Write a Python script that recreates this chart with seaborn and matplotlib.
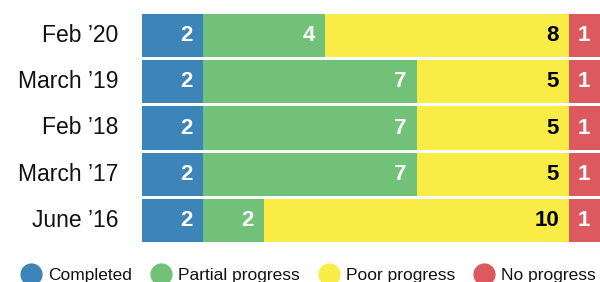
import numpy as np
import pandas as pd
import matplotlib
matplotlib.use("Agg")
import matplotlib.pyplot as plt
from matplotlib.lines import Line2D
import seaborn as sns

# data
periods = ["Feb \u201920", "March \u201919", "Feb \u201918", "March \u201917", "June \u201916"]
categories = ["Completed", "Partial progress", "Poor progress", "No progress"]
completed = [2, 2, 2, 2, 2]
partial = [4, 7, 7, 7, 2]
poor = [8, 5, 5, 5, 10]
no_progress = [1, 1, 1, 1, 1]

colors = ["#3d85b8", "#72c178", "#faec46", "#dc5a5f"]
label_colors = ["white", "white", "black", "white"]

sns.set_style("white")
plt.rcParams["font.family"] = ["Liberation Sans", "DejaVu Sans"]

df = pd.DataFrame({"period": periods,
                   categories[0]: completed,
                   categories[1]: partial,
                   categories[2]: poor,
                   categories[3]: no_progress})
cum = df[categories].cumsum(axis=1)

fig = plt.figure(figsize=(6, 2.82), dpi=100)
ax = fig.add_axes([142 / 600, 1 - 242 / 282, 458 / 600, 228 / 282])

# stacked bars: draw the longest cumulative first, then overlay
for cat, col in reversed(list(zip(categories, colors))):
    sns.barplot(x=cum[cat], y=df["period"], order=periods, orient="h",
                color=col, saturation=1, width=0.93, linewidth=0, ax=ax)

# value labels at the right end of each segment
for cat, tcol in zip(categories, label_colors):
    for i, (v, end) in enumerate(zip(df[cat], cum[cat])):
        ax.annotate(str(v), xy=(end, i), xytext=(-7.5, 0), textcoords="offset points",
                    ha="right", va="center", color=tcol, fontsize=16, fontweight="bold")

ax.set_xlim(0, 15)
ax.set_ylim(4.465, -0.465)
ax.set_xticks([])
ax.set_xlabel("")
ax.set_ylabel("")
ax.tick_params(axis="y", length=0, pad=17, labelsize=16.5, labelcolor="#111111")
plt.setp(ax.get_yticklabels(), va="center")
sns.despine(ax=ax, left=True, bottom=True)

handles = [Line2D([], [], marker="o", linestyle="", markersize=16,
                  markerfacecolor=c, markeredgewidth=0) for c in colors]
fig.legend(handles, categories, loc="center", bbox_to_anchor=(0.513, 1 - 275 / 282),
           ncol=4, frameon=False, fontsize=12.5, handlelength=1.3, handletextpad=0.32,
           columnspacing=1.02, borderpad=0, borderaxespad=0, labelcolor="#111111")

fig.savefig("out.png", dpi=100)
